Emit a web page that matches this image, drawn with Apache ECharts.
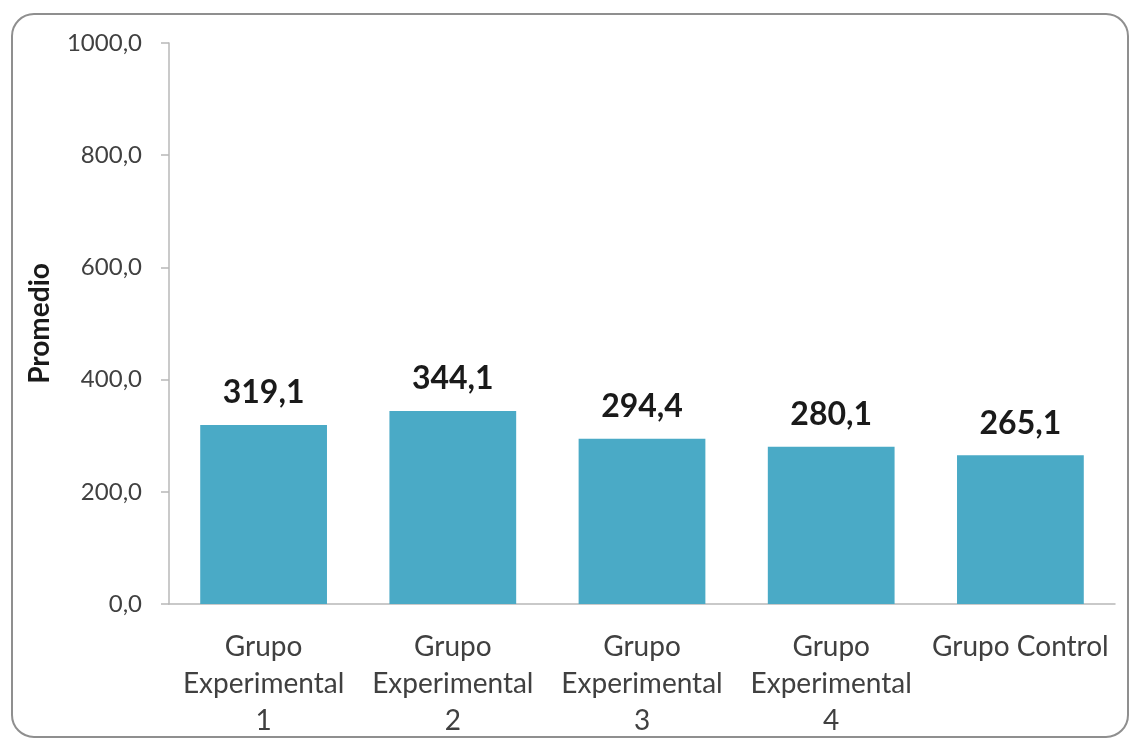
<!DOCTYPE html>
<html>
<head>
<meta charset="utf-8">
<title>Promedio por grupo</title>
<script src="https://cdn.jsdelivr.net/npm/echarts@6/dist/echarts.min.js"></script>
<style>
  html, body { margin: 0; padding: 0; background: #ffffff; }
  #chart { width: 1130px; height: 740px; }
</style>
</head>
<body>
<div id="chart"></div>
<script>
// Groups along the x axis
const categories = [
  'Grupo\nExperimental\n1',
  'Grupo\nExperimental\n2',
  'Grupo\nExperimental\n3',
  'Grupo\nExperimental\n4',
  'Grupo Control'
];
// Mean score per group
const promedios = [319.1, 344.1, 294.4, 280.1, 265.1];
// Value axis range
const yMin = 0;
const yMax = 1000;
const yStep = 200;

// Decimal comma, one decimal place
const fmt = v => Number(v).toFixed(1).replace('.', ',');

const FONT = 'Lato, "Open Sans", sans-serif';
const chart = echarts.init(document.getElementById('chart'), null, { renderer: 'canvas' });

chart.setOption({
  backgroundColor: '#ffffff',
  animation: false,
  graphic: [{
    type: 'rect',
    shape: { x: 12, y: 14, width: 1116, height: 723, r: 22 },
    style: { fill: 'none', stroke: '#8f8f8f', lineWidth: 2 },
    z: 100
  }],
  grid: { left: 169, right: 15, top: 43, bottom: 136 },
  xAxis: {
    type: 'category',
    data: categories,
    axisLine: { show: true, lineStyle: { color: '#b8b8b8', width: 1.5 } },
    axisTick: { show: false },
    axisLabel: {
      interval: 0,
      margin: 24,
      color: '#404040',
      fontFamily: FONT,
      fontSize: 28,
      lineHeight: 37
    }
  },
  yAxis: {
    type: 'value',
    min: yMin,
    max: yMax,
    interval: yStep,
    name: 'Promedio',
    nameLocation: 'middle',
    nameRotate: 90,
    nameGap: 115,
    nameTextStyle: {
      color: '#1a1a1a',
      fontFamily: FONT,
      fontSize: 28,
      fontWeight: 'bold'
    },
    splitLine: { show: false },
    axisLine: { show: true, lineStyle: { color: '#b8b8b8', width: 1.5 } },
    axisTick: { show: true, length: 8, inside: false, lineStyle: { color: '#b8b8b8', width: 1.5 } },
    axisLabel: {
      margin: 27,
      color: '#404040',
      fontFamily: FONT,
      fontSize: 24,
      formatter: fmt
    }
  },
  series: [{
    type: 'bar',
    data: promedios,
    barCategoryGap: '33%',
    itemStyle: { color: '#4aaac6' },
    label: {
      show: true,
      position: 'top',
      distance: 16,
      color: '#1a1a1a',
      fontFamily: FONT,
      fontSize: 32,
      fontWeight: 'bold',
      formatter: p => fmt(p.value)
    }
  }]
});
</script>
</body>
</html>
